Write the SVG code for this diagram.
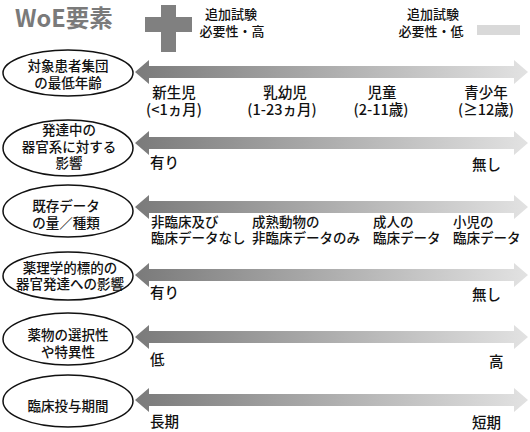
<svg xmlns="http://www.w3.org/2000/svg" width="530" height="432" viewBox="0 0 530 432">
<style>
text{font-family:"Noto Sans CJK JP","Noto Sans",sans-serif;fill:#111;font-weight:500;}
.t{font-size:13.5px;text-anchor:middle;}
.l{font-size:14.5px;}
.m{font-size:14.5px;text-anchor:middle;}
.s{font-size:13.5px;}
.g{font-size:13px;text-anchor:middle;}
ellipse{fill:#fff;stroke:#111;stroke-width:1.5;}
.arrow{fill:url(#grad);}
</style>
<defs>
<linearGradient id="grad" gradientUnits="userSpaceOnUse" x1="135" y1="0" x2="528" y2="0">
<stop offset="0" stop-color="#7a7a7a"/>
<stop offset="0.5" stop-color="#aeaeae"/>
<stop offset="1" stop-color="#e2e2e2"/>
</linearGradient>
</defs>
<rect width="530" height="432" fill="#fff"/>
<g id="title">
<text x="15" y="27" style="font-size:23.5px;font-weight:bold;fill:#7a7a7a;">WoE要素</text>
</g>
<g id="legend-high">
<rect x="145" y="17" width="47" height="15" fill="#808080"/>
<rect x="161" y="5" width="15" height="47" fill="#808080"/>
<text class="g" x="231" y="19">追加試験</text>
<text class="g" x="232" y="36">必要性・高</text>
</g>
<g id="legend-low">
<text class="g" x="433" y="19">追加試験</text>
<text class="g" x="431" y="36">必要性・低</text>
<rect x="477" y="25" width="43" height="10" fill="#d9d9d9"/>
</g>
<g id="connectors">
<path class="arrow" d="M135,72 L149,60 L149,66 L514,66 L514,60 L528,72 L514,84 L514,78 L149,78 L149,84 Z"/>
<path class="arrow" d="M135,143 L149,131 L149,137 L514,137 L514,131 L528,143 L514,155 L514,149 L149,149 L149,155 Z"/>
<path class="arrow" d="M135,207 L149,195 L149,201 L514,201 L514,195 L528,207 L514,219 L514,213 L149,213 L149,219 Z"/>
<path class="arrow" d="M135,275 L149,263 L149,269 L514,269 L514,263 L528,275 L514,287 L514,281 L149,281 L149,287 Z"/>
<path class="arrow" d="M135,337 L149,325 L149,331 L514,331 L514,325 L528,337 L514,349 L514,343 L149,343 L149,349 Z"/>
<path class="arrow" d="M135,400 L149,388 L149,394 L514,394 L514,388 L528,400 L514,412 L514,406 L149,406 L149,412 Z"/>
</g>
<g id="node-age">
<ellipse cx="68" cy="73" rx="65" ry="23"/>
<text class="t" x="68" y="71">対象患者集団</text>
<text class="t" x="68" y="88">の最低年齢</text>
</g>
<g id="node-organ">
<ellipse cx="68" cy="148" rx="65" ry="28"/>
<text class="t" x="69" y="135">発達中の</text>
<text class="t" x="69" y="152">器官系に対する</text>
<text class="t" x="69" y="168">影響</text>
</g>
<g id="node-data">
<ellipse cx="68" cy="211" rx="65" ry="26"/>
<text class="t" x="66" y="211">既存データ</text>
<text class="t" x="66" y="228">の量／種類</text>
</g>
<g id="node-pharm">
<ellipse cx="68" cy="276" rx="65" ry="24"/>
<text class="t" x="70" y="273">薬理学的標的の</text>
<text class="t" x="70" y="289">器官発達への影響</text>
</g>
<g id="node-select">
<ellipse cx="68" cy="339" rx="65" ry="26"/>
<text class="t" x="68" y="340">薬物の選択性</text>
<text class="t" x="68" y="357">や特異性</text>
</g>
<g id="node-duration">
<ellipse cx="68" cy="401" rx="65" ry="26"/>
<text class="t" x="68" y="411">臨床投与期間</text>
</g>
<g id="labels">
<text class="m" x="174" y="98">新生児</text>
<text class="m" x="174" y="115">(&lt;1ヵ月)</text>
<text class="m" x="285" y="98">乳幼児</text>
<text class="m" x="282" y="115">(1-23ヵ月)</text>
<text class="m" x="382" y="98">児童</text>
<text class="m" x="381" y="115">(2-11歳)</text>
<text class="m" x="486" y="98">青少年</text>
<text class="m" x="486" y="115">(≥12歳)</text>
<text class="l" x="150" y="168">有り</text>
<text class="l" x="472" y="170">無し</text>
<text class="s" x="151" y="227">非臨床及び</text>
<text class="s" x="151" y="243">臨床データなし</text>
<text class="s" x="252" y="227">成熟動物の</text>
<text class="s" x="252" y="243">非臨床データのみ</text>
<text class="s" x="373" y="227">成人の</text>
<text class="s" x="373" y="243">臨床データ</text>
<text class="s" x="453" y="227">小児の</text>
<text class="s" x="453" y="243">臨床データ</text>
<text class="l" x="150" y="298">有り</text>
<text class="l" x="472" y="300">無し</text>
<text class="l" x="150" y="365">低</text>
<text class="l" x="489" y="367">高</text>
<text class="l" x="150" y="427">長期</text>
<text class="l" x="472" y="428">短期</text>
</g>
</svg>
